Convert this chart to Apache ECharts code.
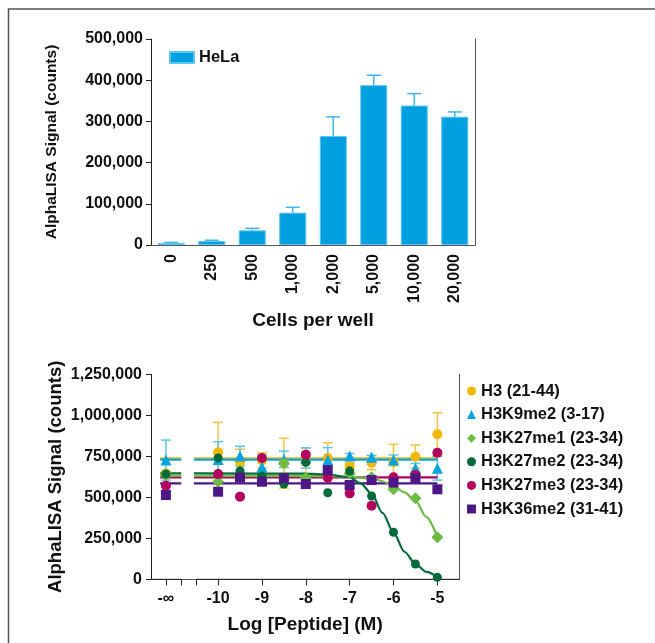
<!DOCTYPE html>
<html>
<head>
<meta charset="utf-8">
<script src="https://cdn.jsdelivr.net/npm/echarts@6/dist/echarts.min.js"></script>
<style>
  html, body { margin: 0; padding: 0; background: #fff; }
  #chart { width: 655px; height: 643px; }
</style>
</head>
<body>
<div id="chart"></div>
<script>
// ---------- Top chart data ----------
const cellCategories = ['0', '250', '500', '1,000', '2,000', '5,000', '10,000', '20,000'];
const helaValues = [5000, 9500, 35500, 78500, 264500, 388000, 338500, 311500];
const helaErrors = [1500, 2000, 5000, 13000, 46500, 24000, 29000, 11500];
const topYTicks = [0, 100000, 200000, 300000, 400000, 500000];

// ---------- Bottom chart data (values in counts) ----------
const NEG_INF_POS = -11.19; // position where "-∞" is drawn
const doseLog = [NEG_INF_POS, -10, -9.5, -9, -8.5, -8, -7.5, -7, -6.5, -6, -5.5, -5];
const doseTickValues = [NEG_INF_POS, -10, -9, -8, -7, -6, -5];
const doseTickLabels = ['-∞', '-10', '-9', '-8', '-7', '-6', '-5'];
const breakTicks = [-10.84, -10.5];
const xAxisSegments = [[-11.53, -10.84], [-10.5, -4.5]];
const fitSegmentLeft = [-11.32, -10.84];

const seriesNames = ['H3 (21-44)', 'H3K9me2 (3-17)', 'H3K27me1 (23-34)', 'H3K27me2 (23-34)', 'H3K27me3 (23-34)', 'H3K36me2 (31-41)'];

const h3 =        [645000, 775000, 715000, 725000, 708000, 715000, 740000, 690000, 711000, 714000, 748000, 884000];
const h3Err =     [15000, 182000, 78000, 47000, 152000, 85000, 93000, 20000, 43000, 109000, 71000, 132000];
const h3k9me2 =   [727000, 730000, 752000, 685000, 731000, 740000, 727000, 752000, 744000, 727000, 677000, 677000];
const h3k9me2Err =[122000, 109000, 59000, 73000, 50000, 62000, 76000, 15000, 12000, 31000, 30000, 72000];
const h3k27me1 =  [635000, 595000, 640000, 617000, 708000, 618000, 630000, 645000, 622000, 549000, 494000, 256000];
const h3k27me2 =  [642000, 740000, 662000, 630000, 581000, 713000, 528000, 660000, 508000, 287000, 93000, 12000];
const h3k27me3 =  [571000, 642000, 504000, 740000, 615000, 760000, 620000, 524000, 449000, 622000, 636000, 772000];
const h3k36me2 =  [514000, 534000, 620000, 595000, 616000, 581000, 666000, 575000, 605000, 590000, 616000, 549000];

// fitted lines
const h3FitLevel = 738000;
const h3k9me2FitLevel = 730000;
const h3k27me3FitLevel = 622000;
const h3k36me2FitLevel = 585000;
const fitFlatX = [-10.55, -5];
const h3k27me2CurveX = [-10.55, -8, -7.5, -7, -6.75, -6.5, -6.25, -6, -5.75, -5.5, -5.25, -5];
const h3k27me2CurveY = [646000, 644000, 638000, 622000, 585000, 522000, 405000, 285000, 168000, 93000, 45000, 13000];
const h3k27me1CurveX = [-10.55, -8, -7.5, -7, -6.5, -6.25, -6, -5.75, -5.5, -5.25, -5];
const h3k27me1CurveY = [630000, 630000, 629000, 626000, 615000, 598000, 568000, 530000, 478000, 380000, 256000];
const bottomYTicks = [0, 250000, 500000, 750000, 1000000, 1250000];

// ---------- Styling ----------
const FONT = "'Liberation Sans', Arial, Helvetica, sans-serif";
const TXT = '#111';
const AX = '#222';
const BOX = '#555';
const colors = {
  bar: '#009FDF', barBorder: '#5BC6F2', barErr: '#3DB8EC',
  h3: '#F2B705', h3Err: '#F5C443',
  k9: '#0AA3E0', k9Err: '#5CC6F0',
  k27me1: '#6CBB43', k27me2: '#006B3A', k27me3: '#B3005C', k36: '#4E1786'
};
const fmt = v => String(v).replace(/\B(?=(\d{3})+(?!\d))/g, ',');

const chart = echarts.init(document.getElementById('chart'), null, { renderer: 'canvas' });

function pts(xs, ys) { return xs.map((x, i) => [x, ys[i]]); }
function flat(xs, level) { return xs.map(x => [x, level]); }

function errBarRender(upperOnly, capHalf, color, width) {
  return function (params, api) {
    const x = api.value(0), y = api.value(1), e = api.value(2);
    const pTop = api.coord([x, y + e]);
    const pMid = api.coord([x, y]);
    const pBot = api.coord([x, y - e]);
    const start = upperOnly ? pMid : pBot;
    const children = [
      { type: 'line', shape: { x1: pTop[0], y1: pTop[1], x2: start[0], y2: start[1] }, style: { stroke: color, lineWidth: width } },
      { type: 'line', shape: { x1: pTop[0] - capHalf, y1: pTop[1], x2: pTop[0] + capHalf, y2: pTop[1] }, style: { stroke: color, lineWidth: width } }
    ];
    if (!upperOnly) {
      children.push({ type: 'line', shape: { x1: pBot[0] - capHalf, y1: pBot[1], x2: pBot[0] + capHalf, y2: pBot[1] }, style: { stroke: color, lineWidth: width } });
    }
    return { type: 'group', children: children };
  };
}

const boldText = (size) => ({ fontFamily: FONT, fontWeight: 'bold', fontSize: size, color: TXT });

const option = {
  animation: false,
  backgroundColor: '#fff',
  graphic: [
    { type: 'polyline', shape: { points: [[8.5, 643], [8.5, 9], [655, 9]] }, style: { stroke: '#555', lineWidth: 1.5, fill: null } }
  ],
  grid: [
    { left: 151, top: 39, width: 324, height: 206 },
    { left: 151, top: 374.3, width: 308.3, height: 205 }
  ],
  legend: [
    {
      data: [{ name: 'HeLa', icon: 'rect' }],
      left: 164, top: 44, itemWidth: 24, itemHeight: 11,
      textStyle: boldText(16.5), selectedMode: false
    },
    {
      data: [
        { name: seriesNames[0], icon: 'circle' },
        { name: seriesNames[1], icon: 'triangle' },
        { name: seriesNames[2], icon: 'diamond' },
        { name: seriesNames[3], icon: 'circle' },
        { name: seriesNames[4], icon: 'circle' },
        { name: seriesNames[5], icon: 'rect' }
      ],
      orient: 'vertical', left: 462, top: 377, itemWidth: 9, itemHeight: 9, itemGap: 5.6,
      textStyle: Object.assign(boldText(16.5), { lineHeight: 18 }), selectedMode: false
    }
  ],
  xAxis: [
    {
      gridIndex: 0, type: 'category', data: cellCategories, boundaryGap: true,
      name: 'Cells per well', nameLocation: 'middle', nameGap: 66, nameTextStyle: boldText(19),
      axisLine: { lineStyle: { color: AX, width: 1 } },
      axisTick: { alignWithLabel: true, length: 5, lineStyle: { color: AX } },
      axisLabel: Object.assign(boldText(16), { rotate: 90, margin: 9 }),
      splitLine: { show: false }
    },
    {
      gridIndex: 0, type: 'category', data: cellCategories, position: 'top',
      axisLine: { lineStyle: { color: BOX, width: 1 } }, axisTick: { show: false }, axisLabel: { show: false }
    },
    {
      gridIndex: 1, type: 'value', min: -11.53, max: -4.5,
      name: 'Log [Peptide] (M)', nameLocation: 'middle', nameGap: 36, nameTextStyle: boldText(19),
      axisLine: { show: false },
      axisTick: { show: true, length: 6, lineStyle: { color: AX }, customValues: doseTickValues.concat(breakTicks) },
      axisLabel: Object.assign(boldText(16), {
        margin: 11, customValues: doseTickValues,
        formatter: v => { const i = doseTickValues.findIndex(t => Math.abs(t - v) < 1e-6); return i >= 0 ? doseTickLabels[i] : ''; }
      }),
      splitLine: { show: false }
    },
    {
      gridIndex: 1, type: 'value', min: -11.53, max: -4.5, position: 'top',
      axisLine: { lineStyle: { color: BOX, width: 1 } }, axisTick: { show: false }, axisLabel: { show: false }, splitLine: { show: false }
    }
  ],
  yAxis: [
    {
      gridIndex: 0, type: 'value', min: 0, max: 500000, interval: 100000,
      name: 'AlphaLISA Signal (counts)', nameLocation: 'middle', nameGap: 91, nameTextStyle: boldText(15.5),
      axisLine: { show: true, lineStyle: { color: AX, width: 1 } },
      axisTick: { show: true, length: 5, lineStyle: { color: AX } },
      axisLabel: Object.assign(boldText(16), { margin: 8, formatter: v => fmt(v) }),
      splitLine: { show: false }
    },
    {
      gridIndex: 0, type: 'value', min: 0, max: 500000, position: 'right',
      axisLine: { show: true, lineStyle: { color: BOX, width: 1 } }, axisTick: { show: false }, axisLabel: { show: false }, splitLine: { show: false }
    },
    {
      gridIndex: 1, type: 'value', min: 0, max: 1250000, interval: 250000,
      name: 'AlphaLISA Signal (counts)', nameLocation: 'middle', nameGap: 86, nameTextStyle: boldText(18.5),
      axisLine: { show: true, lineStyle: { color: AX, width: 1 } },
      axisTick: { show: true, length: 5, lineStyle: { color: AX } },
      axisLabel: Object.assign(boldText(16), { margin: 9, formatter: v => fmt(v) }),
      splitLine: { show: false }
    },
    {
      gridIndex: 1, type: 'value', min: 0, max: 1250000, position: 'right',
      axisLine: { show: true, lineStyle: { color: BOX, width: 1 } }, axisTick: { show: false }, axisLabel: { show: false }, splitLine: { show: false }
    }
  ],
  series: [
    // ---- top chart ----
    {
      name: 'HeLa', type: 'bar', xAxisIndex: 0, yAxisIndex: 0, data: helaValues, barWidth: 27,
      itemStyle: { color: colors.bar, borderColor: colors.barBorder, borderWidth: 1 }, z: 2
    },
    {
      name: 'HeLa err', type: 'custom', xAxisIndex: 0, yAxisIndex: 0,
      data: helaValues.map((v, i) => [i, v, helaErrors[i]]),
      renderItem: errBarRender(true, 7, colors.barErr, 1.5), z: 3
    },
    // ---- bottom chart: x axis segments ----
    ...xAxisSegments.map((seg, i) => ({
      name: 'xseg' + i, type: 'line', xAxisIndex: 2, yAxisIndex: 2, data: flat(seg, 0), symbol: 'none',
      lineStyle: { color: AX, width: 1 }, clip: false, z: 1, silent: true
    })),
    // ---- error bars ----
    {
      name: 'H3 err', type: 'custom', xAxisIndex: 2, yAxisIndex: 2,
      data: doseLog.map((x, i) => [x, h3[i], h3Err[i]]),
      renderItem: errBarRender(false, 5, colors.h3Err, 1.5), z: 2
    },
    {
      name: 'K9 err', type: 'custom', xAxisIndex: 2, yAxisIndex: 2,
      data: doseLog.map((x, i) => [x, h3k9me2[i], h3k9me2Err[i]]),
      renderItem: errBarRender(false, 5, colors.k9Err, 1.5), z: 2
    },
    // ---- fit lines ----
    ...[
      [h3FitLevel, colors.h3, 'H3 fit'],
      [h3k9me2FitLevel, colors.k9, 'K9 fit'],
      [h3k27me3FitLevel, colors.k27me3, 'K27me3 fit'],
      [h3k36me2FitLevel, colors.k36, 'K36 fit'],
      [h3k27me2CurveY[0], colors.k27me2, 'K27me2 fitL'],
      [h3k27me1CurveY[0], colors.k27me1, 'K27me1 fitL']
    ].map(([lvl, c, n]) => ({
      name: n + ' left', type: 'line', xAxisIndex: 2, yAxisIndex: 2, data: flat(fitSegmentLeft, lvl),
      symbol: 'none', lineStyle: { color: c, width: 2.2 }, z: 3, silent: true
    })),
    ...[
      [h3FitLevel, colors.h3, 'H3 fit'],
      [h3k9me2FitLevel, colors.k9, 'K9 fit'],
      [h3k27me3FitLevel, colors.k27me3, 'K27me3 fit'],
      [h3k36me2FitLevel, colors.k36, 'K36 fit']
    ].map(([lvl, c, n]) => ({
      name: n, type: 'line', xAxisIndex: 2, yAxisIndex: 2, data: flat(fitFlatX, lvl),
      symbol: 'none', lineStyle: { color: c, width: 2.2 }, z: 3, silent: true
    })),
    {
      name: 'K27me1 fit', type: 'line', xAxisIndex: 2, yAxisIndex: 2, data: pts(h3k27me1CurveX, h3k27me1CurveY),
      symbol: 'none', smooth: 0.3, smoothMonotone: 'x', lineStyle: { color: colors.k27me1, width: 2.2 }, z: 3, silent: true
    },
    {
      name: 'K27me2 fit', type: 'line', xAxisIndex: 2, yAxisIndex: 2, data: pts(h3k27me2CurveX, h3k27me2CurveY),
      symbol: 'none', smooth: 0.3, smoothMonotone: 'x', lineStyle: { color: colors.k27me2, width: 2.2 }, z: 3, silent: true
    },
    // ---- points ----
    { name: seriesNames[0], type: 'scatter', xAxisIndex: 2, yAxisIndex: 2, data: pts(doseLog, h3), symbol: 'circle', symbolSize: 10, itemStyle: { color: colors.h3, opacity: 1 }, z: 4 },
    { name: seriesNames[1], type: 'scatter', xAxisIndex: 2, yAxisIndex: 2, data: pts(doseLog, h3k9me2), symbol: 'triangle', symbolSize: 11, itemStyle: { color: colors.k9, opacity: 1 }, z: 4 },
    { name: seriesNames[2], type: 'scatter', xAxisIndex: 2, yAxisIndex: 2, data: pts(doseLog, h3k27me1), symbol: 'diamond', symbolSize: 12, itemStyle: { color: colors.k27me1, opacity: 1 }, z: 4 },
    { name: seriesNames[3], type: 'scatter', xAxisIndex: 2, yAxisIndex: 2, data: pts(doseLog, h3k27me2), symbol: 'circle', symbolSize: 9, itemStyle: { color: colors.k27me2, opacity: 1 }, z: 4 },
    { name: seriesNames[4], type: 'scatter', xAxisIndex: 2, yAxisIndex: 2, data: pts(doseLog, h3k27me3), symbol: 'circle', symbolSize: 10, itemStyle: { color: colors.k27me3, opacity: 1 }, z: 4 },
    { name: seriesNames[5], type: 'scatter', xAxisIndex: 2, yAxisIndex: 2, data: pts(doseLog, h3k36me2), symbol: 'rect', symbolSize: 10, itemStyle: { color: colors.k36, opacity: 1 }, z: 4 }
  ]
};
chart.setOption(option);
</script>
</body>
</html>
